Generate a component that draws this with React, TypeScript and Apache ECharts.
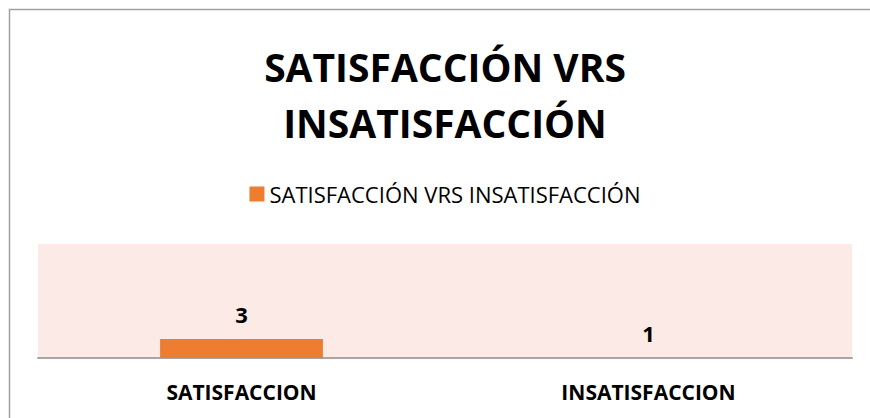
import React, { useEffect, useRef } from "react";
import * as echarts from "echarts";

const titleLines = ["SATISFACCIÓN VRS", "INSATISFACCIÓN"];
const seriesName = "SATISFACCIÓN VRS INSATISFACCIÓN";
const categories = ["SATISFACCION", "INSATISFACCION"];
const values = [3, 1];

const FONT = "'Open Sans', 'Noto Sans', sans-serif";

export default function App() {
  const ref = useRef<HTMLDivElement>(null);
  useEffect(() => {
    if (!ref.current) return;
    document.body.style.overflow = "hidden";
    const chart = echarts.init(ref.current, null, { renderer: "svg" });
    chart.setOption({
      animation: false,
      backgroundColor: "#ffffff",
      title: {
        text: titleLines.join("\n"),
        left: "center",
        top: 33,
        textStyle: {
          fontFamily: FONT,
          fontSize: 39,
          fontWeight: "bold",
          color: "#000000",
          lineHeight: 56,
        },
      },
      legend: {
        data: [seriesName],
        left: "center",
        top: 178,
        itemWidth: 15,
        itemHeight: 15,
        itemGap: 5,
        icon: "rect",
        textStyle: { fontFamily: FONT, fontSize: 22, color: "#000000" },
      },
      graphic: [
        {
          type: "rect",
          shape: { x: 9.5, y: 9.5, width: 1000, height: 1000 },
          style: { fill: "none", stroke: "#a0a0a0", lineWidth: 1.5 },
          silent: true,
          z: 100,
        },
      ],
      grid: {
        left: 38,
        right: 38,
        top: 244,
        bottom: 60,
        show: true,
        backgroundColor: "#fbeae6",
        borderWidth: 0,
      },
      xAxis: {
        type: "category",
        data: categories,
        axisLine: { show: true, lineStyle: { color: "#a6a6a6", width: 2 } },
        axisTick: { show: false },
        axisLabel: {
          fontFamily: FONT,
          fontSize: 21,
          fontWeight: "bold",
          color: "#000000",
          margin: 23,
        },
      },
      yAxis: {
        type: "value",
        min: 1,
        max: 13,
        show: false,
        splitLine: { show: false },
      },
      series: [
        {
          name: seriesName,
          type: "bar",
          data: values,
          barWidth: "40%",
          itemStyle: { color: "#ed7d31" },
          label: {
            show: true,
            position: "top",
            distance: 14,
            fontFamily: FONT,
            fontSize: 22,
            fontWeight: "bold",
            color: "#000000",
          },
        },
      ],
    });
    return () => chart.dispose();
  }, []);
  return (
    <div
      ref={ref}
      style={{ position: "fixed", left: 0, top: 0, width: 890, height: 418 }}
    />
  );
}
